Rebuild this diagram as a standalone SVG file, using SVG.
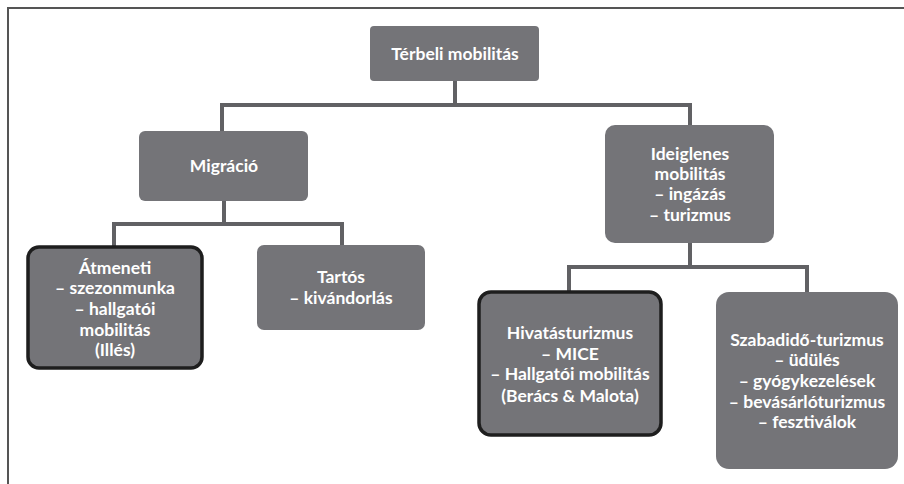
<svg xmlns="http://www.w3.org/2000/svg" width="904" height="484" viewBox="0 0 904 484">
<style>
.box{fill:#747478;}
.hl{fill:#747478;stroke:#1e1e1e;stroke-width:3.5;}
.t{font-family:Lato,"Open Sans",sans-serif;font-weight:bold;font-size:17.5px;fill:#ffffff;text-anchor:middle;dominant-baseline:central;}
.c{fill:none;stroke:#616164;stroke-width:4;}
.frame{fill:none;stroke:#555555;stroke-width:2;}
</style>
<rect width="904" height="484" fill="#ffffff"/>
<path class="frame" d="M8,484 V8 H904"/>
<g id="connectors">
<path class="c" d="M455,81 V105 M222,105 H690 M222,103 V131 M690,103 V125"/>
<path class="c" d="M224,201 V224 M114,224 H342 M114,222 V246 M342,222 V245"/>
<path class="c" d="M690,243 V267 M569,267 H807 M569,265 V291 M807,265 V292"/>
</g>
<g id="n-terbeli">
<rect class="box" x="370" y="26" width="169" height="55" rx="4"/>
<text class="t" x="455" y="53">Térbeli mobilitás</text>
</g>
<g id="n-migracio">
<rect class="box" x="139" y="131" width="169" height="70" rx="6"/>
<text class="t" x="224" y="165">Migráció</text>
</g>
<g id="n-ideiglenes">
<rect class="box" x="605" y="125" width="169" height="118" rx="10"/>
<text class="t" x="690" y="153">Ideiglenes</text>
<text class="t" x="690" y="173">mobilitás</text>
<text class="t" x="690" y="193">– ingázás</text>
<text class="t" x="690" y="214">– turizmus</text>
</g>
<g id="n-atmeneti">
<rect class="hl" x="28" y="247" width="174" height="121" rx="11"/>
<text class="t" x="115" y="267">Átmeneti</text>
<text class="t" x="115" y="287">– szezonmunka</text>
<text class="t" x="115" y="308">– hallgatói</text>
<text class="t" x="115" y="329">mobilitás</text>
<text class="t" x="115" y="349">(Illés)</text>
</g>
<g id="n-tartos">
<rect class="box" x="257" y="245" width="168" height="85" rx="7"/>
<text class="t" x="341" y="276">Tartós</text>
<text class="t" x="341" y="297">– kivándorlás</text>
</g>
<g id="n-hivatas">
<rect class="hl" x="479" y="292" width="182" height="143" rx="12"/>
<text class="t" x="570" y="332">Hivatásturizmus</text>
<text class="t" x="570" y="353">– MICE</text>
<text class="t" x="570" y="373">– Hallgatói mobilitás</text>
<text class="t" x="570" y="395">(Berács &amp; Malota)</text>
</g>
<g id="n-szabadido">
<rect class="box" x="716" y="292" width="182" height="177" rx="13"/>
<text class="t" x="807" y="339">Szabadidő-turizmus</text>
<text class="t" x="807" y="359">– üdülés</text>
<text class="t" x="807" y="380">– gyógykezelések</text>
<text class="t" x="807" y="401">– bevásárlóturizmus</text>
<text class="t" x="807" y="421">– fesztiválok</text>
</g>
</svg>
